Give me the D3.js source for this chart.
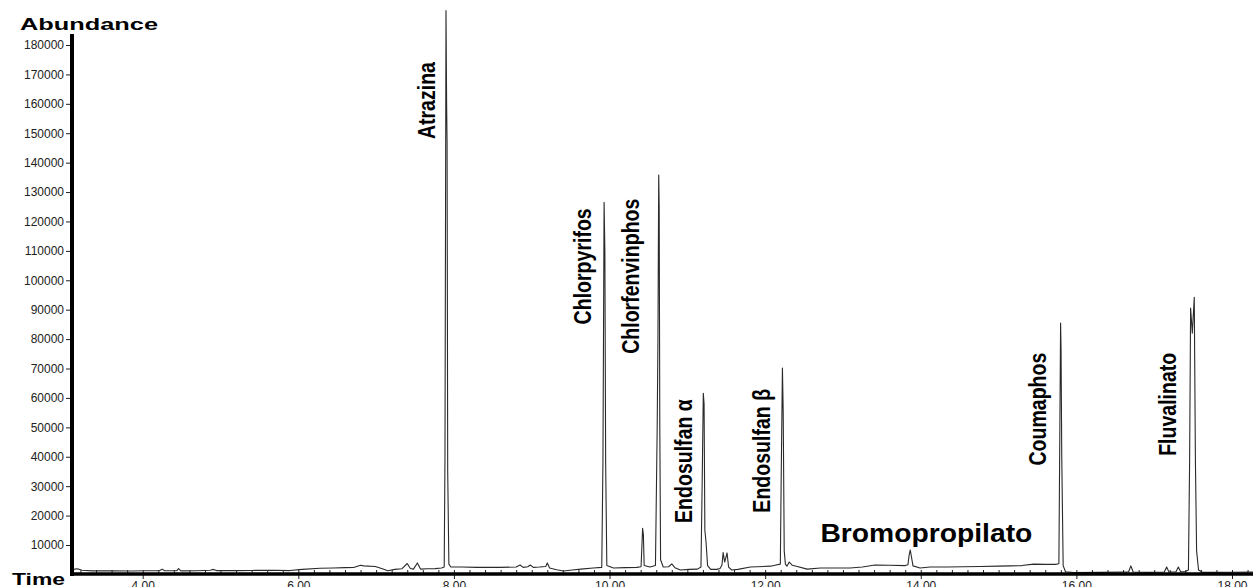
<!DOCTYPE html>
<html>
<head>
<meta charset="UTF-8">
<title>Chromatogram</title>
<style>
  body { margin: 0; background: #fff; }
  svg { display: block; }
  .axis text { font-family: "Liberation Sans", Arial, sans-serif; font-size: 12px; fill: #222; }
  .axis line { stroke: #222; stroke-width: 1; }
  .axis .domain { display: none; }
  .title { font-family: "Liberation Sans", Arial, sans-serif; font-weight: bold; fill: #000; }
  .peak-label { font-family: "Liberation Sans", Arial, sans-serif; font-weight: bold; font-size: 23px; fill: #000; }
</style>
</head>
<body>
<div id="chart"></div>
<script src="https://cdn.jsdelivr.net/npm/d3@7/dist/d3.min.js"></script>
<script>

// retention time (min) of each trace point
var times = [
  3.11, 3.16, 3.22, 3.35, 3.60, 3.85, 4.05, 4.22, 4.25, 4.28, 4.44, 4.46, 4.49, 4.70, 4.87, 4.90, 4.95,
  5.20, 5.40, 5.70, 5.89, 6.05, 6.28, 6.45, 6.60, 6.72, 6.80, 6.84, 6.99, 7.08, 7.15, 7.24, 7.33, 7.40,
  7.44, 7.48, 7.53, 7.57, 7.65, 7.76, 7.84,
  7.875, 7.885, 7.898, 7.906, 7.912, 7.920, 7.935, 7.96,
  8.10, 8.30, 8.59, 8.80, 8.85, 8.89, 8.95, 8.98, 9.02, 9.10, 9.18, 9.20, 9.23, 9.32, 9.41, 9.52, 9.63,
  9.79, 9.90, 9.915, 9.930, 9.940, 9.950, 9.965,
  10.05, 10.20, 10.35, 10.405, 10.415, 10.425, 10.435, 10.445, 10.52, 10.59,
  10.612, 10.622, 10.632, 10.638, 10.646, 10.656,
  10.69, 10.76, 10.80, 10.84, 10.91, 11.02, 11.13, 11.175,
  11.19, 11.205, 11.215, 11.225, 11.24, 11.26,
  11.30, 11.38, 11.42, 11.445, 11.46, 11.48, 11.51, 11.53, 11.57, 11.65, 11.81, 12.07, 12.14,
  12.195, 12.205, 12.222, 12.232, 12.245, 12.26,
  12.28, 12.31, 12.35, 12.40, 12.54, 12.71, 12.96, 13.09, 13.25, 13.41, 13.60, 13.80,
  13.835, 13.85, 13.865, 13.88, 13.90,
  13.99, 14.12, 14.34, 14.55, 14.76, 15.00, 15.15, 15.30, 15.45, 15.60, 15.73,
  15.775, 15.785, 15.797, 15.803, 15.812, 15.83, 15.86,
  15.97, 16.29, 16.61, 16.67, 16.70, 16.73, 16.93, 17.13, 17.16, 17.19, 17.28, 17.31, 17.34, 17.40,
  17.44, 17.455, 17.468, 17.49, 17.515, 17.53, 17.545, 17.57,
  17.62, 17.80, 18.00, 18.28
];

// abundance at each time above
var abundance = [
  1700, 1900, 1400, 1200, 1250, 1150, 1250, 1300, 1800, 1250, 1300, 2000, 1200, 1250, 1400, 1700, 1300,
  1300, 1350, 1400, 1300, 1700, 2100, 2200, 2300, 2400, 3100, 2900, 2700, 1900, 1260, 1700, 1900, 3700,
  2000, 1800, 3900, 1800, 1900, 1950, 2200,
  2500, 40000, 191700, 160000, 147000, 35000, 3500, 2500,
  2500, 2400, 2400, 2500, 3200, 2400, 2600, 3200, 2400, 2500, 2700, 3900, 2200, 1600, 1150, 1500, 1800,
  2200, 2400, 38000, 126500, 110000, 38000, 3000,
  2200, 2300, 2400, 2600, 9000, 15700, 13500, 3000, 2500, 3000,
  49000, 79600, 135800, 125000, 50000, 5000,
  2500, 2600, 3600, 2300, 1500, 1700, 1800, 2500,
  30000, 61600, 58000, 15000, 11000, 3000,
  1700, 1700, 2000, 3200, 7400, 4200, 7300, 2500, 1500, 1700, 2500, 2800, 3200,
  3500, 30000, 70200, 55000, 8000, 3500,
  2800, 4200, 3100, 2800, 1800, 2200, 2200, 2200, 2500, 3200, 3100, 3000,
  3300, 6500, 8300, 6000, 2900,
  2200, 2500, 2500, 2600, 2700, 2800, 2900, 3000, 3500, 3400, 3400,
  3600, 40000, 85500, 76700, 40000, 3000, 900,
  650, 700, 800, 800, 2900, 800, 700, 800, 2500, 800, 900, 2500, 900, 1000,
  1500, 38000, 90600, 82000, 94200, 38000, 8000, 1500,
  700, 700, 750, 800
];

// compound labels, anchored at (time, abundance) of the label's lower end
var peakNames = ["Atrazina", "Chlorpyrifos", "Chlorfenvinphos", "Endosulfan α", "Endosulfan β", "Coumaphos", "Fluvalinato"];
var peakLabelTime = [7.65, 9.66, 10.27, 10.95, 11.95, 15.50, 17.18];
var peakLabelAbund = [148000, 85000, 75000, 17500, 21000, 37000, 40300];

var yTicks = [10000, 20000, 30000, 40000, 50000, 60000, 70000, 80000, 90000, 100000,
              110000, 120000, 130000, 140000, 150000, 160000, 170000, 180000];
var xTicks = [4, 6, 8, 10, 12, 14, 16, 18];

var width = 1253, height = 587;
var axisX = 72, axisY = 574;

var svg = d3.select("#chart").append("svg")
    .attr("width", width)
    .attr("height", height);

var x = d3.scaleLinear().domain([4, 18]).range([142.7, 1232]);
var y = d3.scaleLinear().domain([0, 180000]).range([574.4, 45]);

// minor x ticks, every 0.2 min
svg.append("g")
    .attr("class", "axis")
    .attr("transform", "translate(0," + axisY + ")")
    .call(d3.axisBottom(x).tickValues(d3.range(3.2, 18.21, 0.2)).tickSize(-4).tickFormat(""));

svg.append("g")
    .attr("class", "axis")
    .attr("transform", "translate(0," + axisY + ")")
    .call(d3.axisBottom(x).tickValues(xTicks).tickSize(5).tickPadding(2).tickFormat(d3.format(".2f")));

svg.append("g")
    .attr("class", "axis")
    .attr("transform", "translate(" + (axisX - 2) + ",0)")
    .call(d3.axisLeft(y).tickValues(yTicks).tickSize(4).tickPadding(2).tickFormat(d3.format("d")));

// trace
var pts = times.map(function(t, i) { return [t, abundance[i]]; });
var line = d3.line()
    .x(function(d) { return x(d[0]); })
    .y(function(d) { return y(d[1]); });

svg.append("path")
    .datum(pts)
    .attr("fill", "none")
    .attr("stroke", "#2a2a2a")
    .attr("stroke-width", 1.1)
    .attr("stroke-linejoin", "round")
    .attr("d", line);

// thick frame lines
svg.append("line")
    .attr("x1", axisX).attr("x2", axisX)
    .attr("y1", 34).attr("y2", axisY + 2)
    .attr("stroke", "#000").attr("stroke-width", 4);
svg.append("line")
    .attr("x1", axisX - 2).attr("x2", width)
    .attr("y1", axisY).attr("y2", axisY)
    .attr("stroke", "#000").attr("stroke-width", 3.5);

// titles
svg.append("text").attr("class", "title")
    .attr("x", 20).attr("y", 30)
    .attr("font-size", 17)
    .attr("textLength", 138).attr("lengthAdjust", "spacingAndGlyphs")
    .text("Abundance");
svg.append("text").attr("class", "title")
    .attr("x", 12).attr("y", 585)
    .attr("font-size", 17)
    .attr("textLength", 53).attr("lengthAdjust", "spacingAndGlyphs")
    .text("Time");

// peak labels, narrowed along the text direction
svg.selectAll(".peak-label")
    .data(peakNames)
  .enter().append("text")
    .attr("class", "peak-label")
    .attr("transform", function(d, i) {
      return "translate(" + x(peakLabelTime[i]) + "," + y(peakLabelAbund[i]) + ") rotate(-90) scale(0.85,1)";
    })
    .attr("dy", "0.36em")
    .text(function(d) { return d; });

svg.append("text").attr("class", "title")
    .attr("x", x(12.71)).attr("y", y(11000))
    .attr("font-size", 26)
    .attr("textLength", 212).attr("lengthAdjust", "spacingAndGlyphs")
    .text("Bromopropilato");

</script>
</body>
</html>
